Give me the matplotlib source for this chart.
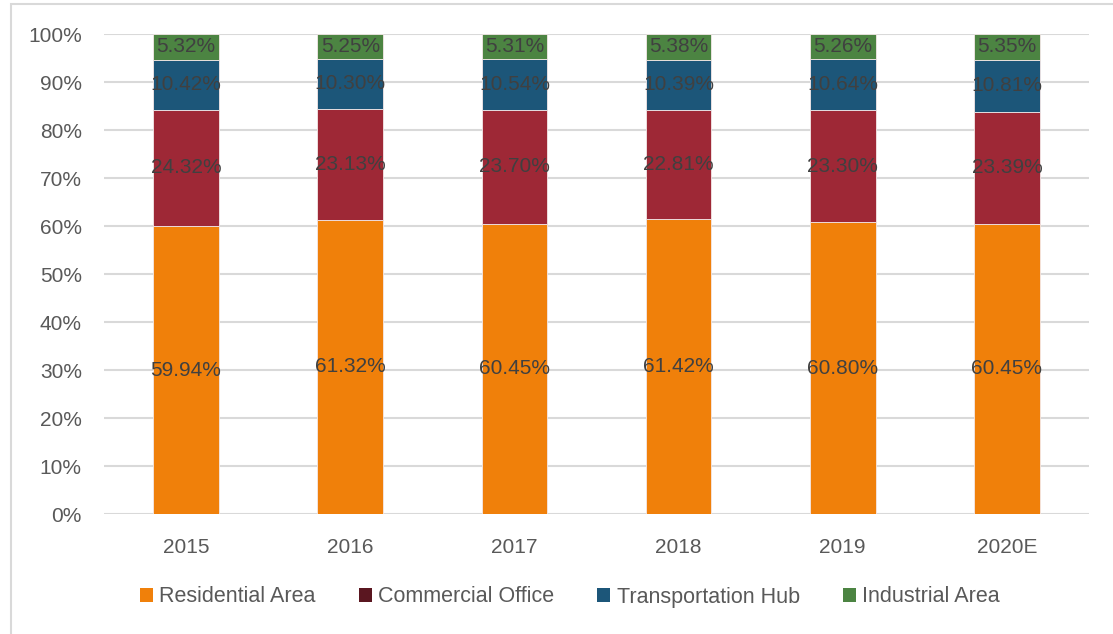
import numpy as np
import matplotlib
matplotlib.use("Agg")
import matplotlib.pyplot as plt
from matplotlib.patches import Patch, Rectangle

# --- Data ---
years = ["2015", "2016", "2017", "2018", "2019", "2020E"]
series_names = ["Residential Area", "Commercial Office", "Transportation Hub", "Industrial Area"]
residential = [59.94, 61.32, 60.45, 61.42, 60.80, 60.45]
commercial = [24.32, 23.13, 23.70, 22.81, 23.30, 23.39]
transport = [10.42, 10.30, 10.54, 10.39, 10.64, 10.81]
industrial = [5.32, 5.25, 5.31, 5.38, 5.26, 5.35]
y_ticks = [0, 10, 20, 30, 40, 50, 60, 70, 80, 90, 100]

# --- Style ---
bar_colors = ["#F0800A", "#9E2836", "#1C5679", "#4C8442"]
legend_colors = ["#F0800A", "#5A1620", "#1C5679", "#4C8442"]
FONT = "Liberation Sans"

fig = plt.figure(figsize=(11.13, 6.34), dpi=100)
ax = fig.add_axes([104 / 1113, 1 - 514 / 634, (1089 - 104) / 1113, (514 - 34) / 634])

# cadre gris autour du graphique
fig.patches.append(Rectangle((11 / 1113, -0.05), 1.2, 1 - 4 / 634 + 0.05,
                             transform=fig.transFigure, fill=False,
                             edgecolor="#D9D9D9", linewidth=1.5))

x = np.arange(len(years))
width = 0.40
bottom = np.zeros(len(years))
for vals, col in zip([residential, commercial, transport, industrial], bar_colors):
    vals = np.array(vals)
    ax.bar(x, vals, width, bottom=bottom, color=col, edgecolor="#F4E8E8",
           linewidth=0.6, zorder=3)
    for xi, b, v in zip(x, bottom, vals):
        ax.text(xi, b + v / 2, f"{v:.2f}%", ha="center", va="center",
                fontsize=15, color="#404040", family=FONT, zorder=4)
    bottom += vals

ax.set_xlim(-0.5, len(years) - 0.5)
ax.set_ylim(0, 100)
ax.set_yticks(y_ticks)
ax.set_yticklabels([f"{t}%" for t in y_ticks], family=FONT, fontsize=15, color="#595959")
ax.set_xticks(x)
ax.set_xticklabels(years, family=FONT, fontsize=15, color="#595959")
ax.tick_params(length=0)
ax.tick_params(axis="y", pad=16)
ax.tick_params(axis="x", pad=17)
for s in ax.spines.values():
    s.set_visible(False)
ax.grid(axis="y", color="#D9D9D9", linewidth=1.5, zorder=0)
ax.set_axisbelow(True)

handles = [Patch(facecolor=c, edgecolor="none") for c in legend_colors]
fig.legend(handles, series_names, loc="center", bbox_to_anchor=(570 / 1113, 1 - 597 / 634),
           ncol=4, frameon=False, prop={"family": FONT, "size": 15.5},
           labelcolor="#595959", handlelength=0.6, handleheight=0.6,
           handletextpad=0.3, columnspacing=2.0)

fig.savefig("out.png", dpi=100)
